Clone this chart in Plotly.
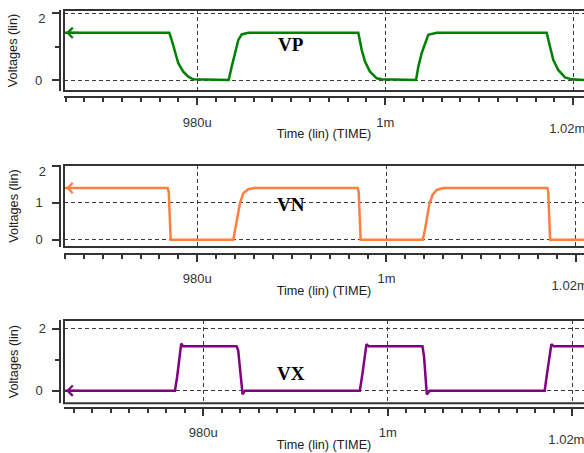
import plotly.graph_objects as go

# ---------------- data (time in microseconds, voltage in volts) ----------------
vp_time = [965.82, 977.02, 977.28, 977.63, 977.98, 978.51, 979.04, 979.57,
           983.34, 983.66, 984.01, 984.36, 984.72, 985.43,
           997.13, 997.49, 997.84, 998.37, 999.09, 999.62,
           1003.27, 1003.52, 1003.87, 1004.22, 1004.57, 1005.47,
           1017.17, 1017.52, 1017.87, 1018.40, 1019.12, 1019.83, 1021.14]
vp_volt = [1.41, 1.41, 1.19, 0.80, 0.50, 0.25, 0.10, 0.02,
           0.0, 0.40, 0.80, 1.19, 1.36, 1.41,
           1.41, 0.90, 0.55, 0.25, 0.05, 0.02,
           0.0, 0.40, 0.80, 1.10, 1.35, 1.41,
           1.41, 1.00, 0.60, 0.30, 0.08, 0.02, 0.0]

vn_time = [965.91, 976.87, 976.98, 977.08, 977.19,
           983.81, 983.99, 984.23, 984.51, 984.86, 985.39, 986.10,
           996.96, 997.06, 997.17, 997.27,
           1003.83, 1004.00, 1004.25, 1004.52, 1004.88, 1005.31, 1006.00,
           1017.00, 1017.10, 1017.20, 1017.30, 1020.88]
vn_volt = [1.40, 1.40, 1.30, 0.35, 0.0,
           0.0, 0.27, 0.63, 0.99, 1.26, 1.37, 1.40,
           1.40, 1.30, 0.35, 0.0,
           0.0, 0.18, 0.54, 0.95, 1.22, 1.35, 1.40,
           1.40, 1.30, 0.35, 0.0, 0.0]

vx_time = [964.92, 976.94, 977.18, 977.40, 977.62, 977.83,
           983.62, 983.79, 983.97, 984.16, 984.27, 984.52,
           996.97, 997.26, 997.51, 997.69, 997.94,
           1003.76, 1003.93, 1004.12, 1004.23, 1004.55,
           1017.00, 1017.36, 1017.73, 1017.98, 1021.26]
vx_volt = [0.0, 0.0, 0.45, 0.94, 1.52, 1.43,
           1.43, 1.31, 0.77, 0.24, -0.12, 0.0,
           0.0, 0.56, 1.10, 1.50, 1.43,
           1.43, 1.10, 0.45, -0.12, 0.0,
           0.0, 0.77, 1.50, 1.43, 1.43]

time_tickvals = [980, 1000, 1020]
time_ticktext = ["980u", "1m", "1.02m"]
time_minor_ticks = [966, 968, 970, 972, 974, 976, 978, 982, 984, 986, 988, 990,
                    992, 994, 996, 998, 1002, 1004, 1006, 1008, 1010, 1012,
                    1014, 1016, 1018]
series_names = ["VP", "VN", "VX"]
x_title = "Time (lin) (TIME)"
y_title = "Voltages (lin)"

# ---------------- layout geometry ----------------
W, H = 584, 453
BOX_LEFT = 64
FONT = "Liberation Sans, Arial, sans-serif"
INK = "#333333"
GRID = "#3a3a3a"


def fx(p):
    return p / W


def fy(p):
    return 1 - p / H


panels = [
    dict(t=vp_time, v=vp_volt, color="#008000", top=10, bot=91, xline=97, yline=59.5,
         xr=[965.82, 1021.14], yr=[-0.328, 2.09], major=[0, 2], minor=[1],
         shift2=5, label=(990.0, 1.07)),
    dict(t=vn_time, v=vn_volt, color="#ff7f40", top=165, bot=247, xline=253.5, yline=60,
         xr=[965.91, 1020.88], yr=[-0.197, 2.027], major=[0, 1, 2], minor=[],
         shift2=5, label=(989.9, 0.95)),
    dict(t=vx_time, v=vx_volt, color="#800080", top=320, bot=403.3, xline=407.5, yline=60,
         xr=[964.92, 1021.26], yr=[-0.406, 2.28], major=[0, 2], minor=[1],
         shift2=0, label=(989.5, 0.54)),
]

fig = go.Figure()
layout = dict(width=W, height=H,
              margin=dict(l=0, r=0, t=0, b=0, pad=0, autoexpand=False),
              paper_bgcolor="white", plot_bgcolor="white", showlegend=False)
shapes = []
annotations = []

X_STANDOFF = 6
Y_STANDOFF = 7
TICK_SIZE = 13

for i, p in enumerate(panels):
    n = i + 1
    xid = "x" if n == 1 else f"x{n}"
    yid = "y" if n == 1 else f"y{n}"
    xk = "xaxis" if n == 1 else f"xaxis{n}"
    yk = "yaxis" if n == 1 else f"yaxis{n}"
    oxid, oyid = f"x{n + 3}", f"y{n + 3}"

    fig.add_trace(go.Scatter(x=p["t"], y=p["v"], xaxis=xid, yaxis=yid, mode="lines",
                             line=dict(color=p["color"], width=2.5), hoverinfo="skip"))
    fig.add_trace(go.Scatter(x=[p["xr"][0]], y=[None], xaxis=oxid, yaxis=yid,
                             mode="lines", hoverinfo="skip"))
    fig.add_trace(go.Scatter(x=[p["xr"][0]], y=[None], xaxis=xid, yaxis=oyid,
                             mode="lines", hoverinfo="skip"))

    dom_x = [fx(BOX_LEFT), 1]
    dom_y = [fy(p["bot"]), fy(p["top"])]
    tickfont = dict(family=FONT, size=TICK_SIZE, color=INK)

    layout[xk] = dict(
        domain=dom_x, range=p["xr"], anchor="free", position=fy(p["xline"]),
        automargin=False,
        showline=True, linecolor=INK, linewidth=2,
        ticks="outside", ticklen=7, tickwidth=1.5, tickcolor=INK,
        tickmode="array", tickvals=time_tickvals, ticktext=time_ticktext[:2] + [""],
        showgrid=True, gridcolor=GRID, gridwidth=1, griddash="4px,3px",
        zeroline=False, tickfont=tickfont, ticklabelstandoff=X_STANDOFF,
        minor=dict(tickmode="array", tickvals=time_minor_ticks, ticks="outside",
                   ticklen=4, tickwidth=1.5, tickcolor=INK, showgrid=False),
        title=dict(text=x_title, font=dict(family=FONT, size=12.7, color="#222"), standoff=0),
        fixedrange=True,
    )
    layout[f"xaxis{n + 3}"] = dict(
        overlaying=xid, range=p["xr"], anchor="free", position=fy(p["xline"]),
        automargin=False,
        showline=False, ticks="", showgrid=False, zeroline=False,
        tickmode="array", tickvals=time_tickvals[2:], ticktext=time_ticktext[2:],
        tickfont=tickfont, ticklabelstandoff=X_STANDOFF + 7 + 9, ticklabelshift=-6,
        ticklabeloverflow="allow",
        fixedrange=True,
    )

    ytext = [("" if v == 2 else str(v)) for v in p["major"]]
    layout[yk] = dict(
        domain=dom_y, range=p["yr"], anchor="free", position=fx(p["yline"]),
        automargin=False,
        showline=True, linecolor=INK, linewidth=1.5,
        ticks="outside", ticklen=7, tickwidth=1.5, tickcolor=INK,
        tickmode="array", tickvals=p["major"], ticktext=ytext,
        showgrid=True, gridcolor=GRID, gridwidth=1, griddash="4px,3px",
        zeroline=False, tickfont=tickfont, ticklabelstandoff=Y_STANDOFF,
        minor=dict(tickmode="array", tickvals=p["minor"], ticks="outside",
                   ticklen=4, tickwidth=1.5, tickcolor=INK, showgrid=False),
        title=dict(text=y_title, font=dict(family=FONT, size=12.7, color="#222"), standoff=13),
        fixedrange=True,
    )
    layout[f"yaxis{n + 3}"] = dict(
        overlaying=yid, range=p["yr"], anchor="free", position=fx(p["yline"]),
        automargin=False,
        showline=False, ticks="", showgrid=False, zeroline=False,
        tickmode="array", tickvals=[2], ticktext=["2"],
        tickfont=tickfont, ticklabelstandoff=Y_STANDOFF + 7, ticklabelshift=p["shift2"],
        ticklabeloverflow="allow",
        fixedrange=True,
    )

    # plot frame
    shapes.append(dict(type="rect", xref="paper", yref="paper",
                       x0=fx(BOX_LEFT), x1=1.05, y0=fy(p["bot"]), y1=fy(p["top"]),
                       line=dict(color=INK, width=2), fillcolor="rgba(0,0,0,0)"))
    # start-of-trace arrow
    annotations.append(dict(xref=xid, yref=yid, x=p["t"][0], y=p["v"][0],
                            ax=16, ay=0, text="", showarrow=True, arrowhead=4,
                            arrowsize=1, arrowwidth=2, arrowcolor=p["color"], standoff=2))
    # signal name
    annotations.append(dict(xref=xid, yref=yid, x=p["label"][0], y=p["label"][1],
                            text=series_names[i], showarrow=False,
                            font=dict(family="Liberation Serif, Times New Roman, serif",
                                      size=19, color="black", weight="bold"),
                            xanchor="center", yanchor="middle"))

layout["shapes"] = shapes
layout["annotations"] = annotations
fig.update_layout(**layout)
fig.write_html("out.html", config={"displayModeBar": False},
               post_script="document.body.style.margin='0';document.body.style.overflow='hidden';")
